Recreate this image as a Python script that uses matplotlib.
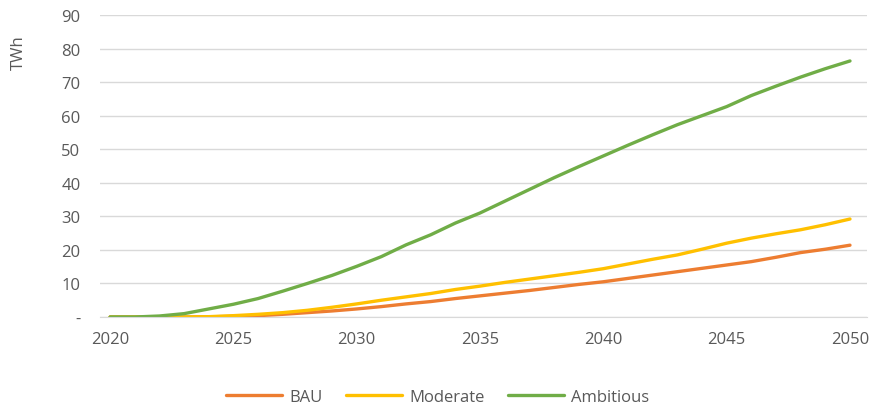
import matplotlib.pyplot as plt

years = list(range(2020, 2051))
bau = [0, 0, 0, 0, 0.05, 0.2, 0.4, 0.8, 1.3, 1.8, 2.4, 3.1, 3.9, 4.6, 5.5, 6.3,
       7.1, 7.9, 8.8, 9.7, 10.5, 11.5, 12.5, 13.5, 14.5, 15.5, 16.5, 17.8, 19.2, 20.2, 21.4]
moderate = [0, 0, 0, 0, 0.1, 0.4, 0.8, 1.3, 2.0, 2.9, 3.9, 5.0, 6.0, 7.0, 8.2, 9.2,
            10.3, 11.3, 12.3, 13.3, 14.4, 15.8, 17.2, 18.5, 20.2, 22.0, 23.5, 24.8, 26.0, 27.5, 29.2]
ambitious = [0, 0, 0.3, 1.0, 2.4, 3.8, 5.5, 7.7, 10.0, 12.4, 15.1, 18.0, 21.5, 24.5, 28.0, 31.0,
             34.5, 38.0, 41.5, 44.8, 48.0, 51.2, 54.3, 57.3, 60.0, 62.7, 66.0, 68.8, 71.5, 74.0, 76.3]

plt.rcParams['font.family'] = ['Open Sans', 'DejaVu Sans']

fig = plt.figure(figsize=(8.75, 4.1), dpi=100)
ax = fig.add_axes([100 / 875, 1 - 318 / 410, 767 / 875, 302 / 410])

ax.plot(years, bau, color='#ED7D31', lw=2.4, label='BAU', solid_capstyle='round')
ax.plot(years, moderate, color='#FFC000', lw=2.4, label='Moderate', solid_capstyle='round')
ax.plot(years, ambitious, color='#70AD47', lw=2.4, label='Ambitious', solid_capstyle='round')

ax.set_xlim(2019.59, 2050.69)
ax.set_ylim(0, 90)
ax.set_yticks(range(0, 91, 10))
ax.set_yticklabels(['-'] + [str(v) for v in range(10, 91, 10)])
ax.set_xticks(range(2020, 2051, 5))
ax.grid(axis='y', color='#D9D9D9', lw=1)
ax.set_axisbelow(True)
for s in ['top', 'right', 'left']:
    ax.spines[s].set_visible(False)
ax.spines['bottom'].set_color('#D9D9D9')
ax.tick_params(length=0, labelsize=12, labelcolor='#595959')
ax.tick_params(axis='y', pad=14)
ax.tick_params(axis='x', pad=10)
ax.set_ylabel('TWh', fontsize=12, color='#595959')
ax.yaxis.set_label_coords(-0.095, 0.88)

fig.legend(loc='center', bbox_to_anchor=(0.5, 1 - 398 / 410), ncol=3, frameon=False,
           fontsize=12, labelcolor='#595959', handlelength=3.4, columnspacing=1.4,
           handletextpad=0.4)

fig.savefig('out.png', dpi=100)
